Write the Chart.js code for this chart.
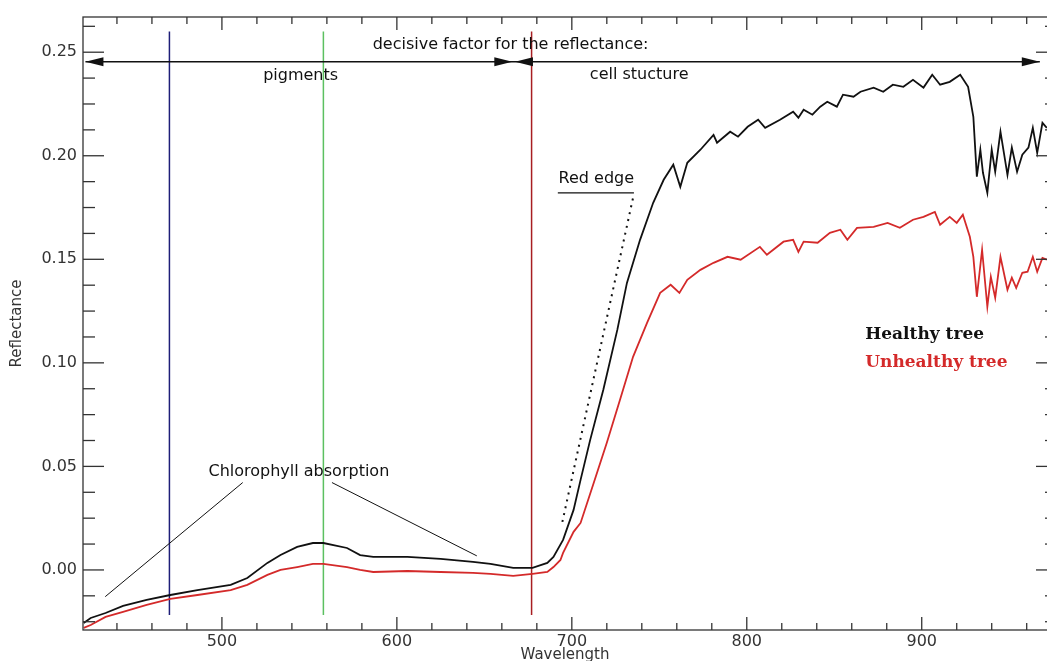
<!DOCTYPE html>
<html>
<head>
<meta charset="utf-8">
<title>Reflectance of a healthy and an unhealthy tree</title>
<script src="https://cdn.jsdelivr.net/npm/chart.js@4.4.0/dist/chart.umd.min.js"></script>
<style>
  html, body { margin: 0; padding: 0; background: #fff; }
  #wrap { width: 1047px; height: 661px; }
</style>
</head>
<body>
<div id="wrap"><canvas id="spectrum" width="1047" height="661"></canvas></div>
<script>
// spectra: wavelength (nm) and reflectance
const healthyWl = [421, 425, 433.5, 443.5, 457, 470.5, 486, 505, 514.5, 526,
  533.5, 543, 552, 558, 571.5, 579, 586.5, 606, 625, 643.5,
  653.5, 666.5, 677.5, 686, 689.5, 695, 701, 705, 710.5, 718,
  726, 731.5, 739, 746.5, 752.5, 758, 762, 766, 773.5, 781,
  783, 790.5, 795, 800.5, 806.5, 810.5, 819, 826.5, 829.5, 832.5,
  837.5, 842, 846, 851.5, 855, 861, 865, 872.5, 878, 883.5,
  889.5, 895, 901, 906, 910.5, 916, 922, 926.5, 929.5, 931.5,
  933.5, 935, 937.5, 940, 942, 945, 949, 951.5, 954.5, 957.5,
  961, 963.5, 966, 969, 971.5];
const healthyRefl = [-0.0256, -0.0232, -0.0208, -0.0174, -0.0145, -0.0121, -0.0097, -0.0072, -0.0039, 0.0034,
  0.0072, 0.0111, 0.0130, 0.0130, 0.0106, 0.0072, 0.0063, 0.0063, 0.0053, 0.0039,
  0.0029, 0.0010, 0.0010, 0.0034, 0.0063, 0.0145, 0.0290, 0.0435, 0.0628, 0.0870,
  0.1159, 0.1386, 0.1594, 0.1773, 0.1884, 0.1957, 0.1850, 0.1966, 0.2029, 0.2101,
  0.2063, 0.2116, 0.2092, 0.2140, 0.2174, 0.2135, 0.2174, 0.2213, 0.2184, 0.2222,
  0.2198, 0.2237, 0.2261, 0.2237, 0.2295, 0.2285, 0.2309, 0.2329, 0.2309, 0.2343,
  0.2333, 0.2367, 0.2329, 0.2391, 0.2343, 0.2357, 0.2391, 0.2333, 0.2188, 0.1899,
  0.2029, 0.1918, 0.1821, 0.2029, 0.1923, 0.2116, 0.1908, 0.2039, 0.1923, 0.2005,
  0.2039, 0.2135, 0.2014, 0.2159, 0.2135];

const unhealthyWl = [421, 425, 433.5, 443.5, 457, 470.5, 486, 505, 514.5, 526,
  533.5, 543, 552, 558, 571.5, 579, 586.5, 606, 625, 643.5,
  653.5, 666.5, 677.5, 686, 689.5, 693.5, 695, 701, 705, 712.5,
  720, 727.5, 735, 743, 750.5, 756.5, 761.5, 766, 773.5, 781,
  789, 796.5, 807.5, 811.5, 821, 826.5, 829.5, 832.5, 840.5, 847.5,
  853.5, 857.5, 863, 872.5, 880.5, 887.5, 895, 901, 907.5, 910.5,
  916, 920, 923.5, 927.5, 929.5, 931.5, 934.5, 937.5, 939.5, 942,
  945, 949, 951.5, 954, 957.5, 960.5, 963.5, 966, 969, 971.5];
const unhealthyRefl = [-0.0280, -0.0266, -0.0227, -0.0203, -0.0169, -0.0140, -0.0121, -0.0097, -0.0072, -0.0024,
  0.0000, 0.0014, 0.0029, 0.0029, 0.0014, 0.0000, -0.0010, -0.0005, -0.0010, -0.0014,
  -0.0019, -0.0029, -0.0019, -0.0010, 0.0014, 0.0048, 0.0082, 0.0184, 0.0227, 0.0420,
  0.0614, 0.0821, 0.1029, 0.1193, 0.1338, 0.1377, 0.1338, 0.1401, 0.1449, 0.1483,
  0.1512, 0.1498, 0.1560, 0.1522, 0.1585, 0.1594, 0.1536, 0.1585, 0.1580, 0.1628,
  0.1643, 0.1594, 0.1652, 0.1657, 0.1676, 0.1652, 0.1691, 0.1705, 0.1729, 0.1667,
  0.1705, 0.1676, 0.1715, 0.1609, 0.1512, 0.1319, 0.1546, 0.1271, 0.1415, 0.1314,
  0.1512, 0.1353, 0.1411, 0.1362, 0.1435, 0.1440, 0.1512, 0.1440, 0.1507, 0.1498];

const xTicks = [500, 600, 700, 800, 900];
const yTicks = [0.00, 0.05, 0.10, 0.15, 0.20, 0.25];

// blue / green / red marker wavelengths
const markerWl = [470, 558, 677];
const markerColors = ['#1e1e78', '#5cc060', '#a81e22'];

const X_MIN = 420.6, X_MAX = 971.6, X_FRAME = 977.3;
const Y_MIN = -0.029, Y_MAX = 0.267;

const sans = '"DejaVu Sans", sans-serif';

function toPoints(xs, ys) {
  return xs.map((x, i) => ({ x: x, y: ys[i] }));
}

function seg(ctx, x1, y1, x2, y2) {
  ctx.beginPath();
  ctx.moveTo(x1, y1);
  ctx.lineTo(x2, y2);
  ctx.stroke();
}

function head(ctx, tx, ty, dir) {
  ctx.beginPath();
  ctx.moveTo(tx, ty);
  ctx.lineTo(tx - dir * 18, ty - 4.5);
  ctx.lineTo(tx - dir * 18, ty + 4.5);
  ctx.closePath();
  ctx.fill();
}

const annotations = {
  id: 'annotations',
  beforeDatasetsDraw(chart) {
    const { ctx, scales: { x, y } } = chart;
    ctx.save();
    ctx.lineWidth = 1.5;
    markerWl.forEach((w, i) => {
      ctx.strokeStyle = markerColors[i];
      const px = x.getPixelForValue(w);
      seg(ctx, px, y.getPixelForValue(0.260), px, y.getPixelForValue(-0.0217));
    });
    ctx.restore();
  },
  afterDatasetsDraw(chart) {
    const { ctx, scales: { x, y } } = chart;
    const X = v => x.getPixelForValue(v), Y = v => y.getPixelForValue(v);
    ctx.save();

    // frame + inward ticks on all four sides
    const l = X(X_MIN), r = X(X_FRAME), t = Y(Y_MAX), b = Y(Y_MIN);
    ctx.strokeStyle = '#333';
    ctx.lineWidth = 1.3;
    ctx.strokeRect(l, t, r - l, b - t);
    for (let w = 440; w < X_FRAME; w += 20) {
      const len = w % 100 === 0 ? 13 : 7;
      const px = X(w);
      seg(ctx, px, b, px, b - len);
      seg(ctx, px, t, px, t + len);
    }
    for (let k = -2; k * 0.0125 < Y_MAX; k++) {
      const v = k * 0.0125;
      if (v < Y_MIN) continue;
      const len = k % 4 === 0 ? 21 : 12;
      const py = Y(v);
      seg(ctx, l, py, l + len, py);
      seg(ctx, r, py, r - len, py);
    }

    ctx.strokeStyle = '#111';
    ctx.fillStyle = '#111';

    // decisive factor arrows
    ctx.lineWidth = 1.5;
    const ay = Y(0.2454);
    seg(ctx, X(422), ay, X(967.5), ay);
    head(ctx, X(422), ay, -1);
    head(ctx, X(666), ay, 1);
    head(ctx, X(667.5), ay, -1);
    head(ctx, X(967.5), ay, 1);

    ctx.font = '16px ' + sans;
    ctx.textBaseline = 'middle';
    ctx.textAlign = 'center';
    ctx.fillText('decisive factor for the reflectance:', X(665), Y(0.2536));
    ctx.fillText('pigments', X(545), Y(0.2386));
    ctx.fillText('cell stucture', X(738.5), Y(0.2391));
    ctx.fillText('Red edge', X(714), Y(0.1889));
    ctx.fillText('Chlorophyll absorption', X(544), Y(0.0475));

    // red edge underline + dotted slope
    ctx.lineWidth = 1.2;
    seg(ctx, X(692), Y(0.1821), X(735.5), Y(0.1821));
    ctx.setLineDash([2, 5]);
    ctx.lineWidth = 2;
    seg(ctx, X(694.6), Y(0.0232), X(735), Y(0.1797));
    ctx.setLineDash([]);

    // chlorophyll pointers
    ctx.lineWidth = 1;
    seg(ctx, X(433.3), Y(-0.0129), X(511.9), Y(0.0422));
    seg(ctx, X(562.9), Y(0.0422), X(645.7), Y(0.0068));

    // legend
    ctx.textAlign = 'left';
    ctx.font = 'bold 17px "DejaVu Serif", serif';
    ctx.fillStyle = '#111';
    ctx.fillText('Healthy tree', X(867.7), Y(0.1135));
    ctx.fillStyle = '#d42a2a';
    ctx.fillText('Unhealthy tree', X(867.7), Y(0.1000));
    ctx.restore();
  }
};

new Chart(document.getElementById('spectrum'), {
  type: 'line',
  data: {
    datasets: [
      {
        label: 'Healthy tree',
        data: toPoints(healthyWl, healthyRefl),
        borderColor: '#111',
        borderWidth: 1.8,
        pointRadius: 0,
        tension: 0
      },
      {
        label: 'Unhealthy tree',
        data: toPoints(unhealthyWl, unhealthyRefl),
        borderColor: '#d42a2a',
        borderWidth: 1.8,
        pointRadius: 0,
        tension: 0
      }
    ]
  },
  options: {
    responsive: false,
    animation: false,
    devicePixelRatio: 1,
    layout: { padding: { top: 17, right: 0, bottom: 0, left: 0 } },
    plugins: {
      legend: { display: false },
      tooltip: { enabled: false }
    },
    scales: {
      x: {
        type: 'linear',
        min: X_MIN,
        max: X_MAX,
        grid: { display: false, drawTicks: false },
        border: { display: false },
        afterBuildTicks: s => { s.ticks = xTicks.map(v => ({ value: v })); },
        afterFit: s => { s.height = 31; },
        ticks: { color: '#333', font: { family: sans, size: 16 }, padding: 2, maxRotation: 0 },
        title: { display: true, text: 'Wavelength', color: '#333', font: { family: sans, size: 15 }, padding: { top: 0, bottom: -3 } }
      },
      y: {
        min: Y_MIN,
        max: Y_MAX,
        grid: { display: false, drawTicks: false },
        border: { display: false },
        afterBuildTicks: s => { s.ticks = yTicks.map(v => ({ value: v })); },
        afterFit: s => { s.width = 83; },
        ticks: { color: '#333', font: { family: sans, size: 16 }, padding: 6, callback: v => v.toFixed(2) },
        title: { display: true, text: 'Reflectance', color: '#333', font: { family: sans, size: 15 }, padding: { top: 8, bottom: 0 } }
      }
    }
  },
  plugins: [annotations]
});
</script>
</body>
</html>
